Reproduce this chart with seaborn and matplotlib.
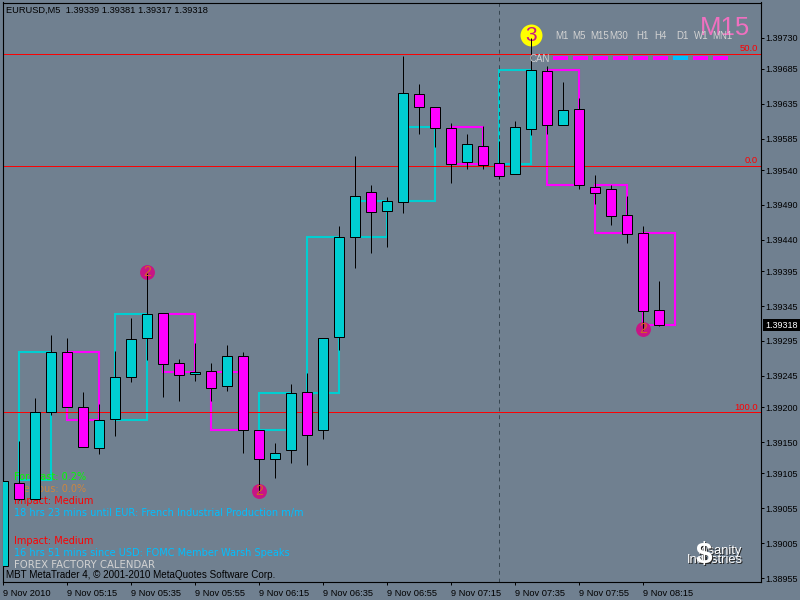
import matplotlib
matplotlib.use("Agg")
import matplotlib.pyplot as plt
from matplotlib.patches import Rectangle
from matplotlib.transforms import Affine2D
import seaborn as sns

# M5 bars, 04:55 -> 08:20
opens = [1.38972, 1.39091, 1.39068, 1.39193, 1.39279, 1.39200, 1.39141, 1.39183, 1.39243, 1.39299, 1.39335, 1.39263, 1.39248, 1.39252,
         1.39230, 1.39273, 1.39167, 1.39126, 1.39139, 1.39222, 1.39167, 1.39301, 1.39444, 1.39508, 1.39481, 1.39494, 1.39649, 1.39630,
         1.39600, 1.39552, 1.39574, 1.39550, 1.39534, 1.39599, 1.39682, 1.39605, 1.39627, 1.39516, 1.39513, 1.39475, 1.39450, 1.39339]
highs = [1.39129, 1.39151, 1.39213, 1.39303, 1.39299, 1.39222, 1.39204, 1.39280, 1.39328, 1.39392, 1.39335, 1.39269, 1.39292, 1.39263,
         1.39289, 1.39279, 1.39167, 1.39149, 1.39233, 1.39249, 1.39299, 1.39460, 1.39560, 1.39518, 1.39501, 1.39703, 1.39663, 1.39630,
         1.39607, 1.39592, 1.39603, 1.39582, 1.39610, 1.39729, 1.39689, 1.39666, 1.39643, 1.39533, 1.39518, 1.39503, 1.39460, 1.39381]
lows = [1.38966, 1.39067, 1.39068, 1.39189, 1.39200, 1.39143, 1.39133, 1.39159, 1.39236, 1.39268, 1.39215, 1.39209, 1.39238, 1.39209,
        1.39223, 1.39134, 1.39078, 1.39098, 1.39120, 1.39117, 1.39154, 1.39282, 1.39400, 1.39421, 1.39430, 1.39478, 1.39592, 1.39573,
        1.39521, 1.39541, 1.39541, 1.39527, 1.39534, 1.39590, 1.39592, 1.39605, 1.39513, 1.39491, 1.39461, 1.39435, 1.39311, 1.39317]
closes = [1.39094, 1.39068, 1.39193, 1.39279, 1.39200, 1.39143, 1.39182, 1.39243, 1.39298, 1.39334, 1.39262, 1.39246, 1.39250, 1.39227,
          1.39273, 1.39167, 1.39126, 1.39134, 1.39220, 1.39160, 1.39299, 1.39444, 1.39503, 1.39480, 1.39496, 1.39650, 1.39630, 1.39600,
          1.39549, 1.39577, 1.39547, 1.39531, 1.39602, 1.39683, 1.39605, 1.39626, 1.39518, 1.39507, 1.39474, 1.39448, 1.39338, 1.39318]

# M15 candles drawn as outlines behind the M5 bars
m15_first = [-2, 1, 4, 7, 10, 13, 16, 19, 22, 25, 28, 31, 34, 37, 40]
m15_open = [1.38900, 1.39095, 1.39279, 1.39182, 1.39334, 1.39250, 1.39167, 1.39220, 1.39444, 1.39496, 1.39602, 1.39549, 1.39683, 1.39518, 1.39450]
m15_close = [1.39095, 1.39279, 1.39182, 1.39334, 1.39250, 1.39167, 1.39220, 1.39444, 1.39496, 1.39602, 1.39549, 1.39683, 1.39518, 1.39450, 1.39318]

fib_prices = [1.39706, 1.39546, 1.39193]
fib_labels = ["50.0", "0.0", "100.0"]

pivot_bars = [9, 16, 40]
pivot_prices = [1.39394, 1.39080, 1.39312]
signal_bar = 33
signal_price = 1.39733

xtick_bars = [0, 4, 8, 12, 16, 20, 24, 28, 32, 36, 40]
xtick_labels = ["9 Nov 2010", "9 Nov 05:15", "9 Nov 05:35", "9 Nov 05:55", "9 Nov 06:15", "9 Nov 06:35",
                "9 Nov 06:55", "9 Nov 07:15", "9 Nov 07:35", "9 Nov 07:55", "9 Nov 08:15"]
ytick_prices = [1.39730, 1.39685, 1.39635, 1.39585, 1.39540, 1.39490, 1.39440, 1.39395, 1.39345,
                1.39295, 1.39245, 1.39200, 1.39150, 1.39105, 1.39055, 1.39005, 1.38955]

tf_names = ["M1", "M5", "M15", "M30", "H1", "H4", "D1", "W1", "MN1"]
tf_centers = [562, 579, 600, 619, 642, 660, 682, 701, 722]
tf_colors = ["#ff00ff"] * 6 + ["#00bfff"] + ["#ff00ff"] * 2

BG = "#708090"
BULL = "#00ced1"
BEAR = "#ff00ff"

sns.set_theme(style="white")
plt.rcParams["font.family"] = ["Liberation Sans", "DejaVu Sans"]

fig = plt.figure(figsize=(8, 6), dpi=100, facecolor=BG)
ax = fig.add_axes([2.5 / 800, 18 / 600, 758.5 / 800, 579.5 / 600], facecolor=BG)
ax.set_xlim(-0.05, 47.356)
ax.set_ylim(1.389493, 1.397802)

# pixel space for the overlay texts, origin top left
px = Affine2D().scale(1 / 800, -1 / 600).translate(0, 1) + fig.transFigure

for first, o, c in zip(m15_first, m15_open, m15_close):
    ax.add_patch(Rectangle((first, min(o, c)), 2, abs(c - o), fill=False, lw=1.5,
                           edgecolor=BULL if c > o else BEAR, zorder=1))

ax.hlines(fib_prices, -0.05, 47.356, color="red", lw=0.7, zorder=2)
ax.axvline(31, color="#36454f", lw=0.7, dashes=(4, 4), zorder=2)

sns.scatterplot(x=[signal_bar], y=[signal_price], s=250, color="yellow", linewidth=0, ax=ax, zorder=2.2)
sns.scatterplot(x=pivot_bars, y=pivot_prices, s=115, color="#c71585", linewidth=0, ax=ax, zorder=2.2)
ax.text(signal_bar, signal_price, "3", color="#c71585", fontsize=15, ha="center", va="center", zorder=2.3)
for b, p in zip(pivot_bars, pivot_prices):
    ax.text(b, p, "2", color="#d2691e", fontsize=10, ha="center", va="center", zorder=4)

# calendar block, candles sit on top of it
info = [(14, 477, "Forecast: 0.2%", "#00ff00", 7.0),
        (14, 489, "Previous: 0.0%", "#cd853f", 7.0),
        (14, 501, "Impact: Medium", "red", 7.0),
        (14, 513, "18 hrs 23 mins until EUR: French Industrial Production m/m", "#00bfff", 7.0),
        (14, 541, "Impact: Medium", "red", 7.0),
        (14, 553, "16 hrs 51 mins since USD: FOMC Member Warsh Speaks", "#00bfff", 7.0),
        (14, 565, "FOREX FACTORY CALENDAR", "#d3d3d3", 7.3)]
for x, y, s, col, size in info:
    ax.text(x, y, s, color=col, fontsize=size, family="DejaVu Sans", va="center", transform=px, zorder=2.5)

bars = range(len(opens))
ax.vlines(bars, lows, highs, color="black", lw=0.72, zorder=3)
ax.bar(bars, [abs(c - o) for o, c in zip(opens, closes)], bottom=[min(o, c) for o, c in zip(opens, closes)],
       width=0.62, color=[BULL if c > o else BEAR for o, c in zip(opens, closes)],
       edgecolor="black", linewidth=0.72, zorder=3.5)

ax.set_xlabel("")
ax.set_ylabel("")
ax.yaxis.tick_right()
ax.set_xticks(xtick_bars)
ax.set_xticklabels(xtick_labels, ha="left")
ax.set_yticks(ytick_prices)
ax.set_yticklabels([f"{v:.5f}" for v in ytick_prices])
ax.tick_params(axis="x", length=2.2, width=0.72, color="black", pad=2.5, labelsize=6.7, labelcolor="black", bottom=True)
ax.tick_params(axis="y", length=2.2, width=0.72, color="black", pad=1.2, labelsize=6.5, labelcolor="black", right=True)
for s in ax.spines.values():
    s.set_color("black")
    s.set_linewidth(0.8)

# texts on the chart
ax.text(6, 10.5, "EURUSD,M5  1.39339 1.39381 1.39317 1.39318", color="black", fontsize=6.7, va="center", transform=px, zorder=6)
ax.text(6, 575, "MBT MetaTrader 4, \u00a9 2001-2010 MetaQuotes Software Corp.", color="black", fontsize=7.1, va="center", transform=px, zorder=6)

for y, lab in zip([48.5, 160.5, 407], fib_labels):
    ax.text(758, y, lab, color="red", fontsize=6.8, ha="right", va="center", transform=px, zorder=6)

ax.text(750, 28, "M15", color="#f070c0", fontsize=18.5, ha="right", va="center", transform=px, zorder=6)
for x, name in zip(tf_centers, tf_names):
    ax.text(x, 36, name, color="#d3d3d3", fontsize=7.0, ha="center", va="center", transform=px, zorder=6)
for k, col in enumerate(tf_colors):
    ax.add_patch(Rectangle((553 + 20 * k, 56), 15, 4, color=col, lw=0, transform=px, clip_on=False, zorder=6))
ax.text(530, 58.5, "CAN", color="#d3d3d3", fontsize=7, va="center", transform=px, zorder=6)

# logo, black copy slightly offset gives the shadow
for off, col in [(1, "#222222"), (0, "white")]:
    ax.text(742 + off, 551 + off, "Insanity", color=col, fontsize=9.3, ha="right", va="center", transform=px, zorder=6)
    ax.text(743 + off, 560 + off, "Industries", color=col, fontsize=9.3, ha="right", va="center", transform=px, zorder=6)
    ax.text(704 + off, 555 + off, "$", color=col, fontsize=21.5, fontweight="bold", ha="center", va="center", transform=px, zorder=6.5)

# current price flag
fig.add_artist(Rectangle((763, 319), 37, 12, color="black", lw=0, transform=px))
fig.text(798, 325, "1.39318", color="white", fontsize=6.5, ha="right", va="center", transform=px)

fig.savefig("out.png", dpi=100, facecolor=BG)
